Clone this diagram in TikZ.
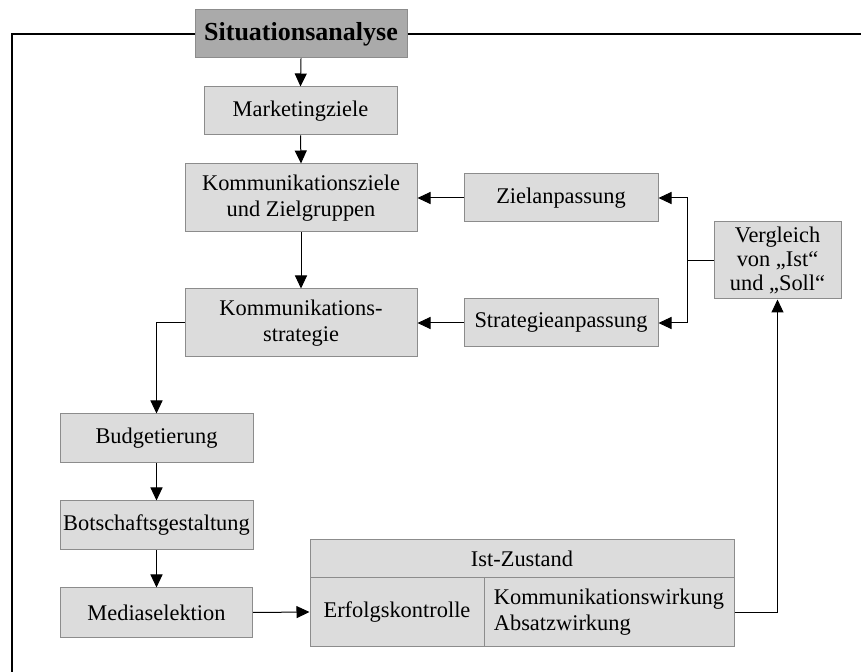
\documentclass[tikz,border=0pt]{standalone}
\usepackage{fontspec}
\setmainfont{Liberation Serif}
\usetikzlibrary{arrows.meta}

\definecolor{boxfill}{RGB}{220,220,220}
\definecolor{boxline}{RGB}{140,140,140}
\definecolor{headfill}{RGB}{170,170,170}

\tikzset{
  stufe/.style={draw=boxline, fill=boxfill, line width=0.5pt, inner sep=1pt,
    align=center, font=\fontsize{11.2}{13}\selectfont},
  kopf/.style={stufe, fill=headfill, font=\fontsize{13}{15}\selectfont\bfseries},
  pfeil/.style={->, line width=0.5pt},
  rahmen/.style={line width=0.65pt}
}

\begin{document}
\begin{tikzpicture}[x=0.5pt, y=-0.5pt, >={Triangle[width=6pt,length=6.5pt]}]
\useasboundingbox (0,0) rectangle (861,672);

% =============================================
% Kopf und Rahmen
% =============================================
\node[kopf, minimum width=106pt, minimum height=24pt] (sit) at (301,34) {Situationsanalyse};
\draw[rahmen] (sit.west) -- (12,34) -- (12,672);
\draw[rahmen] (sit.east) -- (861,34);

% =============================================
% Planung (mittlere Spalte)
% =============================================
\node[stufe, minimum width=96.5pt, minimum height=24pt] (mziele) at (300.5,111) {Marketingziele};
\node[stufe, minimum width=116pt, minimum height=34pt] (kziele) at (301,198) {Kommunikationsziele\\und Zielgruppen};
\node[stufe, minimum width=116pt, minimum height=34pt] (kstrat) at (301,323) {Kommunikations-\\strategie};

\draw[pfeil] (sit.south) -- (mziele.north);
\draw[pfeil] (mziele.south) -- (kziele.north);
\draw[pfeil] (kziele.south) -- (kstrat.north);

% =============================================
% Anpassung und Vergleich (rechts)
% =============================================
\node[stufe, minimum width=97pt, minimum height=24pt] (zanp) at (561,198) {Zielanpassung};
\node[stufe, minimum width=97pt, minimum height=24pt] (sanp) at (561,323) {Strategieanpassung};
\node[stufe, minimum width=63.5pt, minimum height=38.5pt, font=\fontsize{11.2}{12.2}\selectfont] (vgl) at (777.5,260.5) {Vergleich\\von „Ist“\\und „Soll“};

\draw[pfeil] (zanp.west) -- (kziele.east);
\draw[pfeil] (sanp.west) -- (kstrat.east);

% Verzweigung vom Vergleich zu beiden Anpassungen
\coordinate (gabel) at (687,260.5);
\draw[line width=0.5pt] (vgl.west) -- (gabel);
\draw[pfeil] (gabel) |- (zanp.east);
\draw[pfeil] (gabel) |- (sanp.east);

% =============================================
% Umsetzung (linke Spalte)
% =============================================
\node[stufe, minimum width=96.5pt, minimum height=24.5pt] (budget) at (156.5,438.5) {Budgetierung};
\node[stufe, minimum width=96.5pt, minimum height=24.5pt] (botsch) at (156.5,525.5) {Botschaftsgestaltung};
\node[stufe, minimum width=96pt, minimum height=24.5pt] (media) at (156.5,612.5) {Mediaselektion};

\draw[pfeil] (kstrat.west) -| (budget.north);
\draw[pfeil] (budget.south) -- (botsch.north);
\draw[pfeil] (botsch.south) -- (media.north);

% =============================================
% Ist-Zustand (Tabelle unten)
% =============================================
\node[stufe, minimum width=212pt, minimum height=19pt] (ist) at (522,559) {Ist-Zustand};
\node[stufe, minimum width=87pt, minimum height=34pt] (erfolg) at (397,612) {Erfolgskontrolle};
\node[stufe, minimum width=125pt, minimum height=34pt, align=left] (wirk) at (609,612) {Kommunikationswirkung\\Absatzwirkung};

\draw[pfeil] (media.east) -- (erfolg.west);
\draw[pfeil] (wirk.east) -| (vgl.south);

\end{tikzpicture}
\end{document}
